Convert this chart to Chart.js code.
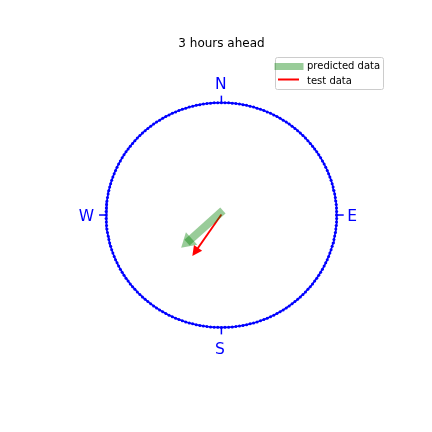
<!DOCTYPE html>
<html><head><meta charset="utf-8">
<script src="https://cdn.jsdelivr.net/npm/chart.js@4/dist/chart.umd.min.js"></script>
<style>html,body{margin:0;padding:0;background:#fff}#wrap{width:432px;height:432px}</style>
</head><body><div id="wrap"><canvas id="c" width="432" height="432"></canvas></div>
<script>
// ---- data ----
const chartTitle = "3 hours ahead";
const seriesNames = ["predicted data", "test data"];
const compassLabels = ["N", "E", "S", "W"];
const compassX = [0, 1, 0, -1];
const compassY = [1, 0, -1, 0];
const predictedTail = [0.013, 0.04];
const predictedTip = [-0.349, -0.292];
const testTail = [0.0, 0.005];
const testTip = [-0.252, -0.365];

// unit compass circle (geometry, not data)
const circleN = 200;
const circlePts = [];
for (let i = 0; i <= circleN; i++) {
  const a = i / circleN * 2 * Math.PI;
  circlePts.push({x: Math.cos(a), y: Math.sin(a)});
}
function shaft(tail, tip, f) {
  return [{x: tail[0], y: tail[1]}, {x: tail[0] + (tip[0] - tail[0]) * f, y: tail[1] + (tip[1] - tail[1]) * f}];
}
const GREEN = 'rgba(0,128,0,0.4)';
const CX = 221.5, CY = 215, RX = 117.5, RY = 114.5;

const extras = {
  id: 'extras',
  afterDatasetsDraw(chart) {
    const ctx = chart.ctx, xs = chart.scales.x, ys = chart.scales.y;
    const px = v => xs.getPixelForValue(v), py = v => ys.getPixelForValue(v);
    function head(tail, tip, hl, hw, col) {
      const Tx = px(tail[0]), Ty = py(tail[1]), Px = px(tip[0]), Py = py(tip[1]);
      const L = Math.hypot(Px - Tx, Py - Ty), ux = (Px - Tx) / L, uy = (Py - Ty) / L;
      const bx = Px - ux * hl, by = Py - uy * hl, nx = -uy, ny = ux;
      ctx.save(); ctx.fillStyle = col; ctx.beginPath();
      ctx.moveTo(Px, Py); ctx.lineTo(bx + nx * hw, by + ny * hw); ctx.lineTo(bx - nx * hw, by - ny * hw);
      ctx.closePath(); ctx.fill(); ctx.restore();
    }
    head(predictedTail, predictedTip, 14, 8.5, GREEN);
    head(testTail, testTip, 10, 5, 'red');

    // compass ticks and labels
    ctx.save();
    ctx.strokeStyle = 'blue'; ctx.fillStyle = 'blue'; ctx.lineWidth = 1.5;
    ctx.font = '15.5px "DejaVu Sans"'; ctx.textBaseline = 'alphabetic';
    for (let i = 0; i < compassLabels.length; i++) {
      const cx = px(compassX[i]), cy = py(compassY[i]);
      const dx = compassX[i], dy = -compassY[i];
      ctx.beginPath(); ctx.moveTo(cx, cy); ctx.lineTo(cx + dx * 7, cy + dy * 7); ctx.stroke();
      if (dy < 0) { ctx.textAlign = 'center'; ctx.fillText(compassLabels[i], cx - 0.5, cy - 14); }
      else if (dy > 0) { ctx.textAlign = 'center'; ctx.fillText(compassLabels[i], cx - 1.5, cy + 27); }
      else if (dx > 0) { ctx.textAlign = 'left'; ctx.fillText(compassLabels[i], cx + 10.5, cy + 6); }
      else { ctx.textAlign = 'right'; ctx.fillText(compassLabels[i], cx - 12, cy + 6); }
    }
    ctx.restore();

    // title
    ctx.save(); ctx.fillStyle = '#000'; ctx.font = '12px "DejaVu Sans"';
    ctx.textAlign = 'center'; ctx.textBaseline = 'alphabetic';
    ctx.fillText(chartTitle, 221.5, 46.5);
    ctx.restore();

    // legend
    ctx.save();
    ctx.fillStyle = 'rgba(255,255,255,0.8)'; ctx.strokeStyle = '#cccccc'; ctx.lineWidth = 1;
    ctx.beginPath(); ctx.roundRect(275.5, 57.5, 108, 32, 2); ctx.fill(); ctx.stroke();
    ctx.fillStyle = GREEN; ctx.fillRect(274.5, 63, 29, 7);
    ctx.strokeStyle = 'red'; ctx.lineWidth = 2;
    ctx.beginPath(); ctx.moveTo(278, 79.5); ctx.lineTo(299, 79.5); ctx.stroke();
    ctx.fillStyle = '#000'; ctx.font = '10px "DejaVu Sans"'; ctx.textAlign = 'left'; ctx.textBaseline = 'alphabetic';
    ctx.fillText(seriesNames[0], 307, 69);
    ctx.fillText(seriesNames[1], 307, 83.5);
    ctx.restore();
  }
};

new Chart(document.getElementById('c'), {
  type: 'scatter',
  data: {
    datasets: [
      {label: 'circle', data: circlePts, showLine: true, borderColor: 'blue', borderWidth: 1.6,
       pointRadius: 1.5, pointBackgroundColor: 'blue', pointBorderWidth: 0, tension: 0},
      {label: seriesNames[0], data: shaft(predictedTail, predictedTip, 0.86), showLine: true,
       borderColor: GREEN, borderWidth: 8, borderCapStyle: 'butt', pointRadius: 0},
      {label: seriesNames[1], data: shaft(testTail, testTip, 0.87), showLine: true,
       borderColor: 'red', borderWidth: 1.8, borderCapStyle: 'butt', pointRadius: 0}
    ]
  },
  options: {
    responsive: false, animation: false, events: [],
    layout: {padding: 0},
    plugins: {legend: {display: false}, tooltip: {enabled: false}, title: {display: false}},
    scales: {
      x: {type: 'linear', min: -CX / RX, max: (432 - CX) / RX, display: false},
      y: {type: 'linear', min: -(432 - CY) / RY, max: CY / RY, display: false}
    }
  },
  plugins: [extras]
});
</script>
</body></html>
